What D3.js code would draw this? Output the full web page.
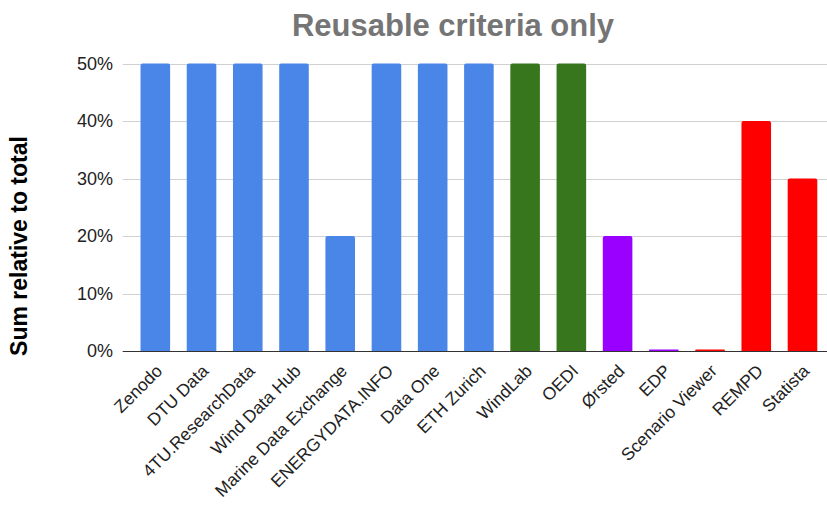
<!DOCTYPE html>
<html><head><meta charset="utf-8">
<script src="https://cdn.jsdelivr.net/npm/d3@7"></script>
<style>body{margin:0;background:#fff}svg{display:block}text{font-family:"Liberation Sans",Arial,sans-serif}</style>
</head><body>
<svg id="c" width="827" height="505"></svg>
<script>
const categories = ["Zenodo","DTU Data","4TU.ResearchData","Wind Data Hub","Marine Data Exchange","ENERGYDATA.INFO","Data One","ETH Zurich","WindLab","OEDI","Ørsted","EDP","Scenario Viewer","REMPD","Statista"];
const values = [50,50,50,50,20,50,50,50,50,50,20,0.25,0.25,40,30];
const colorGroups = ["blue","blue","blue","blue","blue","blue","blue","blue","green","green","purple","purple","red","red","red"];
const yTicks = [0,10,20,30,40,50];
const palette = {blue:"#4a86e8", green:"#38761d", purple:"#9900ff", red:"#ff0000"};

const svg = d3.select("#c");
const gridLeft = 122.7, gridRight = 827;
const x = d3.scaleBand().domain(categories).range([132.2, 825.6]).paddingInner(0.36).paddingOuter(0.18);
const y = d3.scaleLinear().domain([0,50]).range([351, 63.5]);

// grid
svg.append("g").selectAll("line").data(yTicks.filter(d=>d>0)).join("line")
  .attr("x1", gridLeft).attr("x2", gridRight)
  .attr("y1", d=>Math.round(y(d))+0.5).attr("y2", d=>Math.round(y(d))+0.5)
  .attr("stroke","#d0d0d0").attr("stroke-width",1);

// y labels
svg.append("g").selectAll("text").data(yTicks).join("text")
  .attr("x", 113).attr("y", d=>y(d)).attr("dy","0.35em")
  .attr("text-anchor","end").attr("font-size",18).attr("fill","#222")
  .text(d=>d+"%");

// bars with slightly rounded tops
const r = 2;
svg.append("g").selectAll("path").data(categories).join("path")
  .attr("fill", (d,i)=>palette[colorGroups[i]])
  .attr("d", (d,i)=>{
    const x0 = x(d), w = x.bandwidth(), y0 = y(values[i]), yb = y(0);
    const rr = Math.min(r, (yb-y0)/2);
    return `M${x0},${yb}V${y0+rr}Q${x0},${y0} ${x0+rr},${y0}H${x0+w-rr}Q${x0+w},${y0} ${x0+w},${y0+rr}V${yb}Z`;
  });

// baseline
svg.append("line").attr("x1", gridLeft).attr("x2", gridRight)
  .attr("y1", y(0)+0.5).attr("y2", y(0)+0.5).attr("stroke","#333").attr("stroke-width",1);

// x labels
svg.append("g").selectAll("text").data(categories).join("text")
  .attr("transform", d=>`translate(${x(d)+x.bandwidth()/2+8},${372}) rotate(-45)`)
  .attr("text-anchor","end").attr("font-size",17.5).attr("fill","#222")
  .text(d=>d);

// title
svg.append("text").attr("x", 453).attr("y", 36).attr("text-anchor","middle")
  .attr("font-size",31).attr("font-weight","bold").attr("fill","#757575")
  .text("Reusable criteria only");

// y axis title
svg.append("text").attr("transform","translate(27,246) rotate(-90)")
  .attr("text-anchor","middle").attr("font-size",23).attr("font-weight","bold").attr("fill","#000")
  .text("Sum relative to total");
</script>
</body></html>
